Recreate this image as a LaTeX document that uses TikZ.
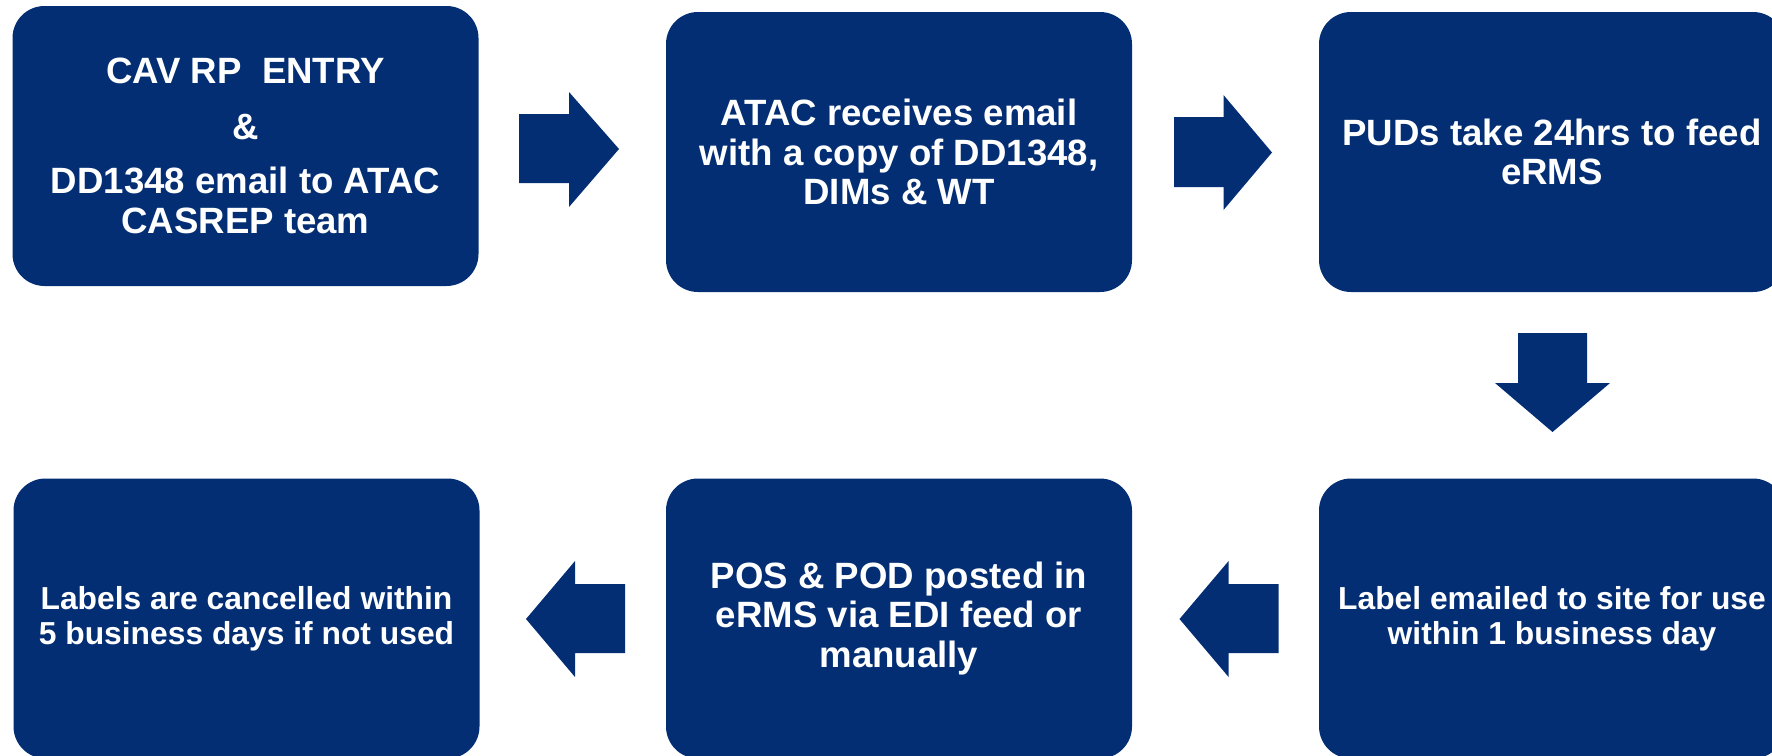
\documentclass[tikz,border=0pt]{standalone}
\usepackage{fontspec}
\setmainfont{Liberation Sans}
\definecolor{navy}{RGB}{3,46,116}
\begin{document}
\begin{tikzpicture}[x=0.5pt,y=-0.5pt,
  box/.style={fill=navy, rounded corners=16pt, minimum width=233pt, minimum height=140pt,
    inner sep=0pt, align=center, text=white, font=\bfseries\fontsize{18.3}{19.75}\selectfont},
  smallbox/.style={box, font=\bfseries\fontsize{15.9}{17.5}\selectfont},
  blockarrow/.style={fill=navy}]
\useasboundingbox (0,0) rectangle (1772,755);
\clip (0,0) rectangle (1772,755);
\node[box] (b1) at (245.5,146) {CAV RP\ \ ENTRY\\[8pt]\&\\[7.5pt]DD1348 email to ATAC\\CASREP team};
\node[box] (b2) at (899,152) {ATAC receives email\\with a copy of DD1348,\\DIMs \& WT};
\node[box] (b3) at (1552,152) {PUDs take 24hrs to feed\\eRMS};
\node[smallbox] (b4) at (1552,618.5) {Label emailed to site for use\\within 1 business day};
\node[box] (b5) at (899,618.5) {POS \& POD posted in\\eRMS via EDI feed or\\manually};
\node[smallbox] (b6) at (246.5,618.5) {Labels are cancelled within\\5 business days if not used};
% block arrows
\fill[blockarrow] (519,114) -- (569,114) -- (569,92) -- (619,149) -- (569,207) -- (569,183) -- (519,183) -- cycle;
\fill[blockarrow] (1174,117) -- (1223.5,117) -- (1223.5,95) -- (1272,152.5) -- (1223.5,210) -- (1223.5,187) -- (1174,187) -- cycle;
\fill[blockarrow] (1518,333) -- (1587,333) -- (1587,383) -- (1610,383) -- (1552.5,432) -- (1495,383) -- (1518,383) -- cycle;
\fill[blockarrow] (1278.6,584) -- (1228.6,584) -- (1228.6,561) -- (1179.5,619) -- (1228.6,677) -- (1228.6,653) -- (1278.6,653) -- cycle;
\fill[blockarrow] (625,584) -- (575,584) -- (575,561) -- (526,619) -- (575,677) -- (575,653) -- (625,653) -- cycle;
\end{tikzpicture}
\end{document}
